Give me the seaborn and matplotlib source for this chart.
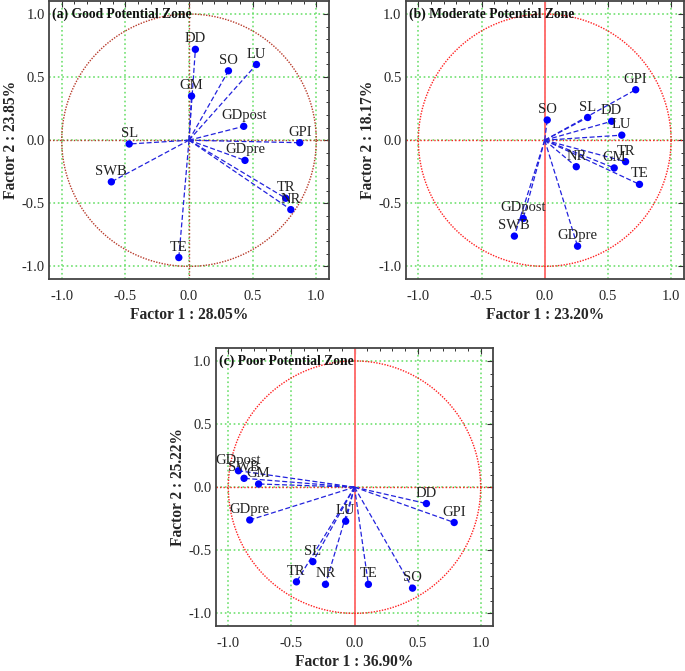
import numpy as np
import pandas as pd
import seaborn as sns
import matplotlib.pyplot as plt

sns.set_style('white')
plt.rcParams['font.family'] = ['Liberation Serif', 'DejaVu Serif']
plt.rcParams['axes.unicode_minus'] = False

# factor loadings
labels_a = ['DD', 'SO', 'LU', 'GM', 'GDpost', 'GPI', 'GDpre', 'SL', 'SWB', 'TR', 'NR', 'TE']
f1_a = [0.05, 0.31, 0.53, 0.02, 0.43, 0.87, 0.44, -0.47, -0.61, 0.76, 0.80, -0.08]
f2_a = [0.72, 0.55, 0.60, 0.35, 0.11, -0.02, -0.16, -0.03, -0.33, -0.46, -0.55, -0.93]

labels_b = ['GPI', 'SO', 'SL', 'DD', 'LU', 'TR', 'GM', 'NR', 'TE', 'GDpost', 'SWB', 'GDpre']
f1_b = [0.72, 0.02, 0.34, 0.53, 0.61, 0.64, 0.55, 0.25, 0.75, -0.17, -0.24, 0.26]
f2_b = [0.40, 0.16, 0.18, 0.15, 0.04, -0.17, -0.22, -0.21, -0.35, -0.62, -0.76, -0.84]

labels_c = ['GDpost', 'SWB', 'GM', 'GDpre', 'DD', 'GPI', 'LU', 'SL', 'TR', 'NR', 'TE', 'SO']
f1_c = [-0.92, -0.875, -0.76, -0.83, 0.57, 0.79, -0.07, -0.33, -0.46, -0.23, 0.11, 0.46]
f2_c = [0.13, 0.07, 0.025, -0.26, -0.13, -0.28, -0.27, -0.59, -0.75, -0.77, -0.77, -0.80]

titles = ['(a) Good Potential Zone', '(b) Moderate Potential Zone', '(c) Poor Potential Zone']
xlabels = ['Factor 1 : 28.05%', 'Factor 1 : 23.20%', 'Factor 1 : 36.90%']
ylabels = ['Factor 2 : 23.85%', 'Factor 2 : 18.17%', 'Factor 2 : 25.22%']


def loading_plot(ax, labels, f1, f2, title, xlab, ylab, dark=False):
    df = pd.DataFrame({'var': labels, 'f1': f1, 'f2': f2})
    circ_col = '#b83a2a' if dark else '#ff2020'
    # grid
    for v in [-1.0, -0.5, 0.5, 1.0]:
        ax.axvline(v, color='#6fe06f', ls=':', lw=1.2, zorder=0)
        ax.axhline(v, color='#6fe06f', ls=':', lw=1.2, zorder=0)
    ax.axhline(0, color='#6fe06f', ls=':', lw=1.2, zorder=0)
    ax.axvline(0, color='#6fe06f', ls=':', lw=1.2, zorder=0)
    ax.axhline(0, color=circ_col, ls=(0, (1, 1.5)), lw=1.0, zorder=1)
    if dark:
        ax.axvline(0, color=circ_col, ls=(0, (1, 1.5)), lw=1.0, zorder=1)
    else:
        ax.axvline(0, color='#ff7070', ls='-', lw=1.4, zorder=1)
    # unit circle
    t = np.linspace(0, 2 * np.pi, 400)
    ax.plot(np.cos(t), np.sin(t), color=circ_col, ls=(0, (1, 1)), lw=1.0, zorder=1)
    # vectors from origin
    for _, r in df.iterrows():
        ax.plot([0, r.f1], [0, r.f2], color='#2222dd', ls=(0, (4, 2)), lw=0.9, zorder=2)
    sns.scatterplot(data=df, x='f1', y='f2', ax=ax, color='#0000ff', s=28,
                    edgecolor='none', zorder=3, legend=False)
    for _, r in df.iterrows():
        ax.annotate(r['var'], (r.f1, r.f2), xytext=(0, 5), textcoords='offset points',
                    ha='center', va='baseline', fontsize=10.5, color='#222222', zorder=4)
    ax.text(-1.075, 1.0, title, fontsize=9.8, fontweight='bold', va='center', ha='left',
            color='#111111', zorder=5)
    ax.set_xlim(-1.1, 1.1)
    ax.set_ylim(-1.1, 1.1)
    ax.set_xticks([-1.0, -0.5, 0.0, 0.5, 1.0])
    ax.set_yticks([-1.0, -0.5, 0.0, 0.5, 1.0])
    ax.set_xticks(np.arange(-1.0, 1.01, 0.1), minor=True)
    ax.set_yticks(np.arange(-1.0, 1.01, 0.1), minor=True)
    ax.tick_params(which='both', direction='in', top=True, right=True, color='#333333',
                   labelsize=10.5)
    ax.tick_params(axis='x', which='major', pad=8)
    ax.tick_params(axis='y', which='major', pad=3)
    ax.tick_params(which='major', length=4, width=0.8)
    ax.tick_params(which='minor', length=2.5, width=0.7)
    ax.set_xlabel(xlab, fontsize=11.2, fontweight='bold', labelpad=3)
    ax.set_ylabel(ylab, fontsize=11.2, fontweight='bold', labelpad=2)
    for s in ax.spines.values():
        s.set_color('#444444')
        s.set_linewidth(1.3)


fig = plt.figure(figsize=(6.85, 6.71), dpi=100)
W, H = 685.0, 671.0
ax_a = fig.add_axes([49 / W, 1 - 279 / H, 280 / W, 277.6 / H])
ax_b = fig.add_axes([405.7 / W, 1 - 279 / H, 278 / W, 277.6 / H])
ax_c = fig.add_axes([215.7 / W, 1 - 626 / H, 277.6 / W, 277.7 / H])

loading_plot(ax_a, labels_a, f1_a, f2_a, titles[0], xlabels[0], ylabels[0], dark=True)
loading_plot(ax_b, labels_b, f1_b, f2_b, titles[1], xlabels[1], ylabels[1])
loading_plot(ax_c, labels_c, f1_c, f2_c, titles[2], xlabels[2], ylabels[2])

fig.savefig('out.png', dpi=100)
